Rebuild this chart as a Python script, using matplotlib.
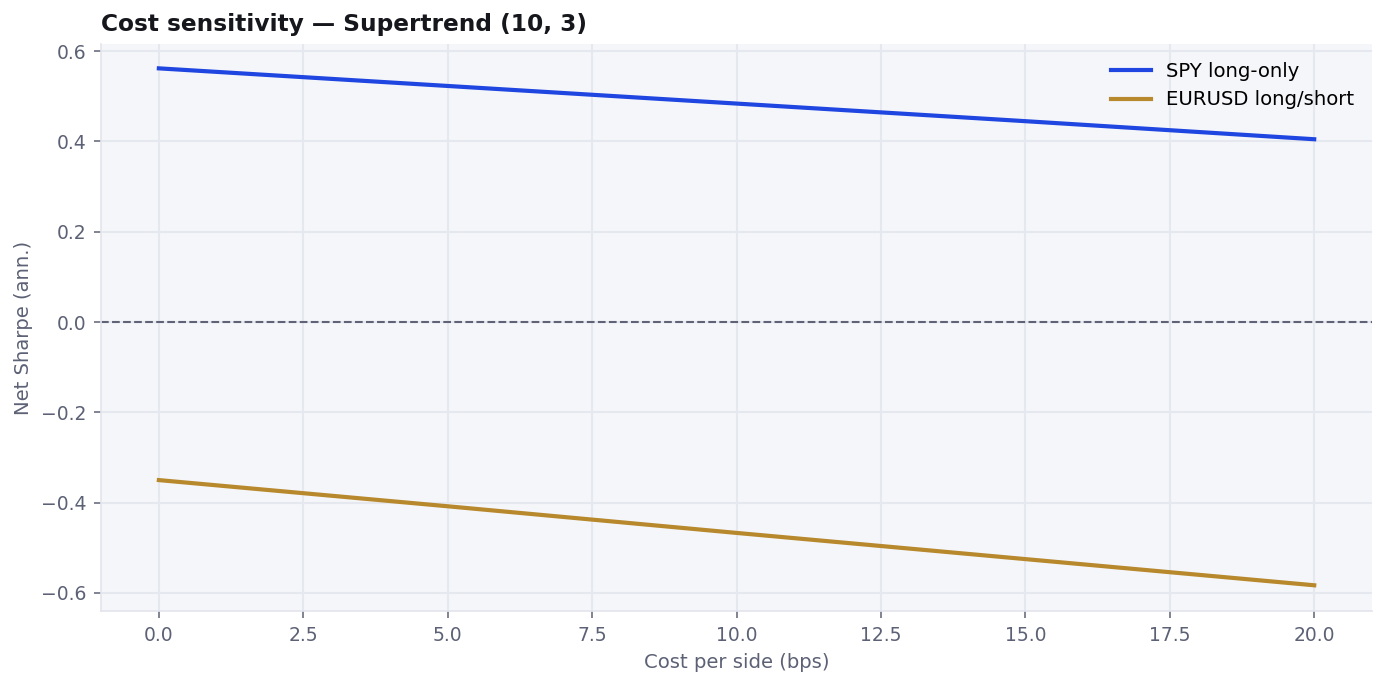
import numpy as np
import matplotlib
matplotlib.use('Agg')
import matplotlib.pyplot as plt

cost_bps = [0, 5, 10, 15, 20]
spy_sharpe = [0.562, 0.523, 0.484, 0.445, 0.405]
eurusd_sharpe = [-0.350, -0.408, -0.467, -0.525, -0.583]

plt.rcParams['font.family'] = 'DejaVu Sans'
fig, ax = plt.subplots(figsize=(1385/150, 685/150), dpi=150)
fig.subplots_adjust(left=0.073, right=0.9906, top=0.9358, bottom=0.108)

ax.set_facecolor('#f5f6fa')
ax.grid(True, color='#e6e8ef', lw=1)
ax.set_axisbelow(True)
for side in ['top', 'right']:
    ax.spines[side].set_visible(False)
for side in ['left', 'bottom']:
    ax.spines[side].set_color('#e3e5ec')
ax.tick_params(colors='#6b7080', labelcolor='#5c6175', labelsize=9)

ax.axhline(0, color='#5f6375', lw=1, linestyle='--')
ax.plot(cost_bps, spy_sharpe, color='#1f46e0', lw=2, label='SPY long-only')
ax.plot(cost_bps, eurusd_sharpe, color='#b8882c', lw=2, label='EURUSD long/short')

ax.set_xlim(-1, 21)
ax.set_ylim(-0.64, 0.616)
ax.set_xticks(np.arange(0, 20.1, 2.5))
ax.set_yticks([-0.6, -0.4, -0.2, 0.0, 0.2, 0.4, 0.6])

ax.set_xlabel('Cost per side (bps)', color='#5c6175', fontsize=9.4)
ax.set_ylabel('Net Sharpe (ann.)', color='#5c6175', fontsize=9.4)
ax.set_title('Cost sensitivity — Supertrend (10, 3)', loc='left', fontweight='bold',
             fontsize=11.2, color='#15171c')
ax.legend(frameon=False, fontsize=9.4, loc='upper right')

fig.savefig('out.png', dpi=150)
